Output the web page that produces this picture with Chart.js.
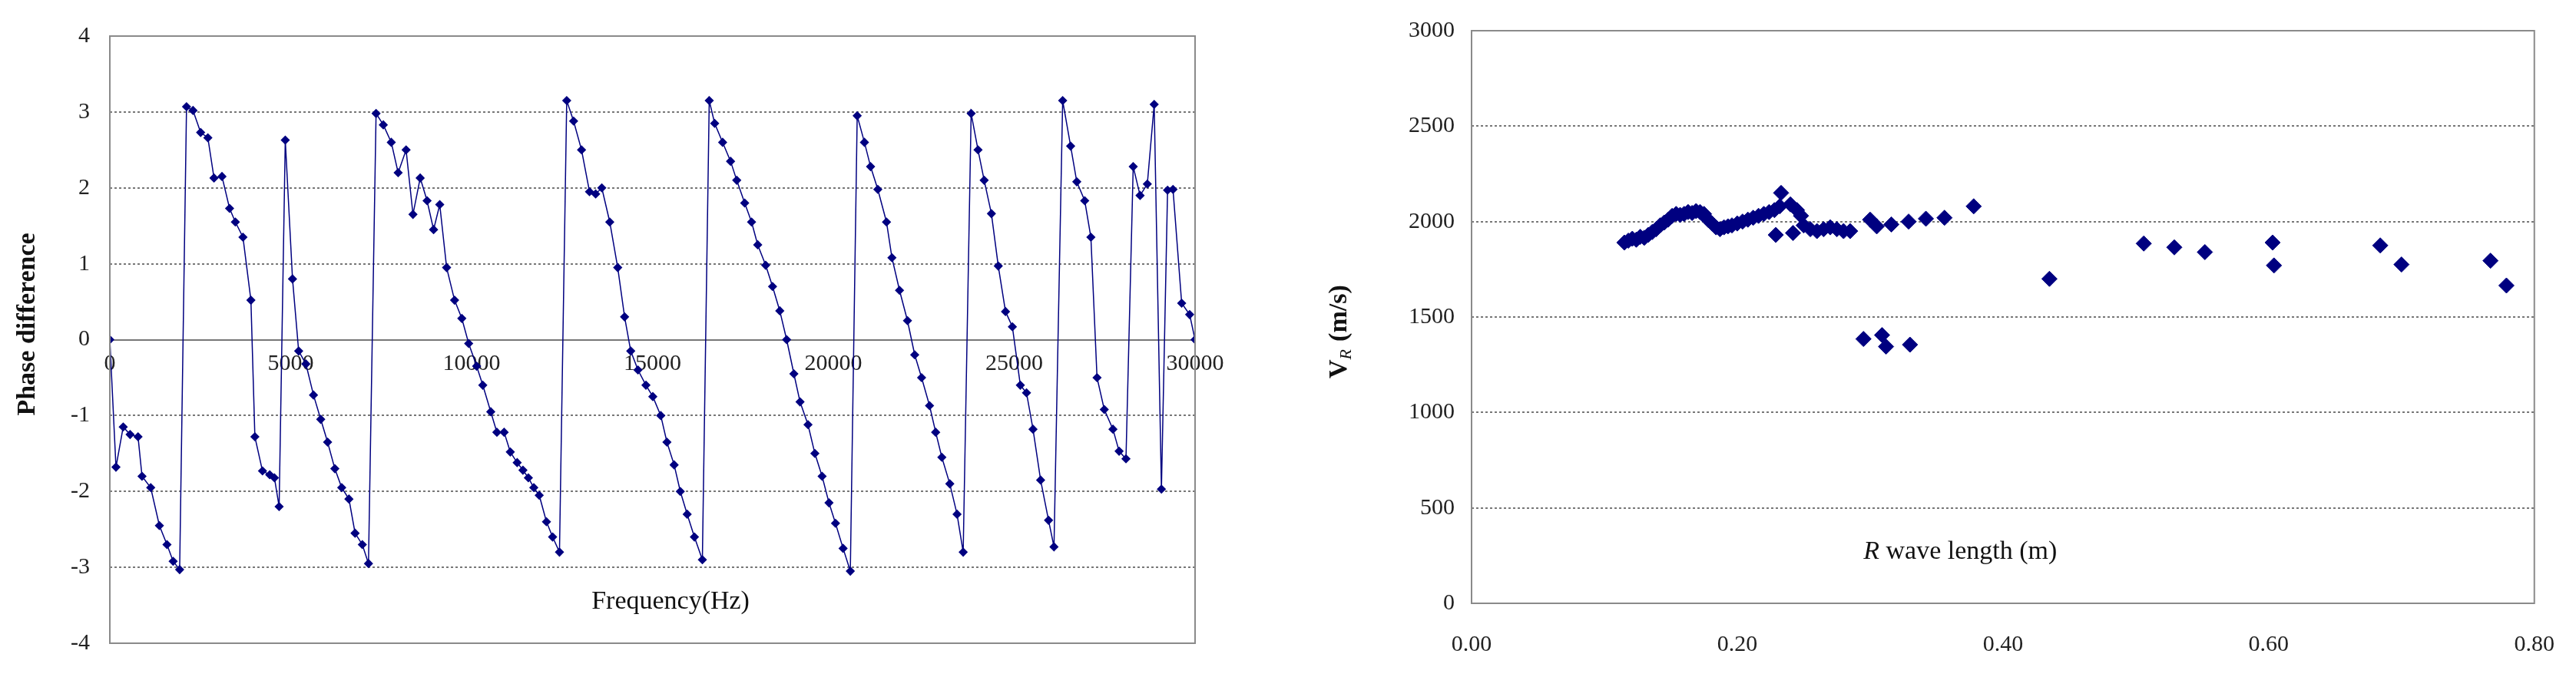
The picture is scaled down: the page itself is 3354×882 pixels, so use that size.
<!DOCTYPE html>
<html><head><meta charset="utf-8">
<script src="https://cdn.jsdelivr.net/npm/chart.js@4"></script>
<style>
body{margin:0;background:#fff;width:3354px;height:882px;overflow:hidden}
.box{position:absolute;top:0;height:882px}
</style></head><body>
<div class="box" style="left:0;width:1600px"><canvas id="phaseChart"></canvas></div>
<div class="box" style="left:1700px;width:1654px"><canvas id="velChart"></canvas></div>
<script>
var freqs = [0,170,370,560,780,890,1130,1370,1580,1750,1930,2120,2300,2510,2710,2880,3100,3310,3470,3680,3900,4010,4220,4420,4550,4680,4850,5050,5220,5420,5630,5830,6020,6220,6410,6610,6780,6980,7150,7360,7560,7780,7970,8190,8380,8580,8770,8950,9120,9310,9530,9730,9920,10140,10310,10530,10700,10900,11070,11260,11420,11570,11720,11870,12070,12240,12430,12630,12820,13040,13260,13430,13600,13820,14040,14230,14400,14600,14820,15010,15230,15400,15600,15770,15960,16160,16380,16570,16720,16940,17160,17330,17550,17740,17910,18130,18320,18520,18710,18910,19080,19300,19490,19690,19880,20060,20270,20470,20660,20860,21030,21230,21470,21620,21830,22050,22250,22440,22660,22830,23000,23220,23420,23590,23810,24000,24170,24370,24560,24760,24950,25170,25340,25520,25730,25950,26100,26340,26560,26730,26950,27120,27290,27490,27730,27900,28090,28290,28480,28680,28870,29070,29240,29390,29630,29850,30000];
var phase = [0,-1.68,-1.15,-1.25,-1.28,-1.8,-1.95,-2.45,-2.7,-2.92,-3.03,3.07,3.02,2.73,2.66,2.13,2.15,1.73,1.55,1.35,0.52,-1.28,-1.73,-1.78,-1.82,-2.2,2.63,0.8,-0.15,-0.32,-0.73,-1.05,-1.35,-1.7,-1.95,-2.1,-2.55,-2.7,-2.95,2.98,2.83,2.6,2.2,2.5,1.65,2.13,1.83,1.45,1.78,0.95,0.52,0.28,-0.05,-0.35,-0.6,-0.95,-1.22,-1.22,-1.48,-1.62,-1.72,-1.82,-1.95,-2.05,-2.4,-2.6,-2.8,3.15,2.88,2.5,1.95,1.92,2.0,1.55,0.95,0.3,-0.15,-0.4,-0.6,-0.75,-1.0,-1.35,-1.65,-2.0,-2.3,-2.6,-2.9,3.15,2.85,2.6,2.35,2.1,1.8,1.55,1.25,0.98,0.7,0.38,0.0,-0.45,-0.82,-1.12,-1.5,-1.8,-2.15,-2.42,-2.75,-3.05,2.95,2.6,2.28,1.98,1.55,1.08,0.65,0.25,-0.2,-0.5,-0.87,-1.22,-1.55,-1.9,-2.3,-2.8,2.98,2.5,2.1,1.66,0.97,0.37,0.17,-0.6,-0.7,-1.18,-1.85,-2.38,-2.73,3.15,2.55,2.08,1.83,1.35,-0.5,-0.92,-1.18,-1.47,-1.57,2.28,1.9,2.05,3.1,-1.97,1.97,1.98,0.48,0.33,0.0];

var waveLen = [0.115,0.118,0.121,0.124,0.127,0.130,0.133,0.136,0.139,0.142,0.145,0.148,0.151,0.154,0.157,0.160,0.163,0.166,0.169,0.172,0.175,0.178,0.181,0.184,0.187,0.190,0.193,0.196,0.200,0.204,0.208,0.212,0.216,0.220,0.224,0.228,0.232,0.233,0.229,0.240,0.245,0.248,0.242,0.250,0.255,0.260,0.265,0.270,0.275,0.280,0.285,0.300,0.305,0.316,0.329,0.342,0.356,0.378,0.435,0.506,0.529,0.552,0.603,0.604,0.684,0.700,0.767,0.779,0.295,0.309,0.312,0.330];
var velR = [1890,1900,1910,1905,1920,1915,1930,1945,1960,1980,1995,2010,2030,2040,2035,2040,2050,2045,2055,2050,2040,2010,1990,1970,1960,1970,1975,1980,1990,2000,2010,2020,2030,2040,2050,2060,2080,2150,1930,2090,2060,2030,1940,1980,1960,1950,1960,1970,1960,1950,1950,2010,1975,1985,2000,2015,2020,2080,1700,1885,1865,1840,1890,1770,1875,1775,1795,1665,1385,1405,1345,1355];

var NAVY = '#000080';
var FONT = 'Liberation Serif';

// box around plot area + free-placed axis titles
function framePlugin(titles) {
    return {
        id: 'frame',
        afterDraw: function (chart) {
            var c = chart.ctx, a = chart.chartArea;
            c.save();
            c.strokeStyle = '#8a8a8a';
            c.lineWidth = 2;
            c.strokeRect(a.left, a.top, a.right - a.left, a.bottom - a.top);
            c.fillStyle = '#111';
            titles(chart, c);
            c.restore();
        }
    };
}

var phasePoints = freqs.map(function (f, i) { return {x: f, y: phase[i]}; });
new Chart(document.getElementById('phaseChart'), {
    type: 'line',
    data: {datasets: [{
        data: phasePoints,
        borderColor: NAVY, backgroundColor: NAVY,
        borderWidth: 1.5, pointStyle: 'rectRot', pointRadius: 5,
        tension: 0
    }]},
    options: {
        responsive: true, maintainAspectRatio: false, animation: false,
        layout: {padding: {top: 47, right: 44, bottom: 39}},
        plugins: {legend: {display: false}, tooltip: {enabled: false}},
        scales: {
            x: {type: 'linear', min: 0, max: 30000, position: {y: 0},
                grid: {display: false},
                border: {color: '#777', width: 2},
                ticks: {stepSize: 5000, color: '#222', font: {family: FONT, size: 30}, padding: 6,
                        callback: function (v) { return String(v); }}},
            y: {min: -4, max: 4,
                afterFit: function (s) { s.width = 143; },
                grid: {color: function (ctx) { var v = ctx.tick.value; return (v === 0 || v === 4 || v === -4) ? 'rgba(0,0,0,0)' : '#777'; },
                       drawTicks: false, lineWidth: 2},
                border: {display: false, dash: [3, 3]},
                ticks: {stepSize: 1, color: '#222', font: {family: FONT, size: 30}, padding: 26}}
        }
    },
    plugins: [framePlugin(function (chart, c) {
            var x = chart.scales.x, y = chart.scales.y;
            c.font = '34px ' + FONT;
            c.textAlign = 'center';
            c.textBaseline = 'middle';
            c.fillText('Frequency(Hz)', x.getPixelForValue(15500), y.getPixelForValue(-3.45));
            c.translate(36, (chart.chartArea.top + chart.chartArea.bottom) / 2 - 20);
            c.rotate(-Math.PI / 2);
            c.font = 'bold 34px ' + FONT;
            c.fillText('Phase difference', 0, 0);
        })]
});

var velPoints = waveLen.map(function (w, i) { return {x: w, y: velR[i]}; });
new Chart(document.getElementById('velChart'), {
    type: 'scatter',
    data: {datasets: [{
        data: velPoints,
        borderColor: NAVY, backgroundColor: NAVY,
        pointStyle: 'rectRot', pointRadius: 10
    }]},
    options: {
        responsive: true, maintainAspectRatio: false, animation: false,
        layout: {padding: {top: 38, right: 45}},
        plugins: {legend: {display: false}, tooltip: {enabled: false}},
        scales: {
            x: {min: 0, max: 0.8,
                afterFit: function (s) { s.height = 96; },
                grid: {display: false, drawOnChartArea: false},
                border: {color: '#777', width: 2},
                ticks: {stepSize: 0.2, color: '#222', font: {family: FONT, size: 30}, padding: 28,
                        callback: function (v) { return v.toFixed(2); }}},
            y: {min: 0, max: 3000,
                afterFit: function (s) { s.width = 216; },
                grid: {color: function (ctx) { var v = ctx.tick.value; return (v === 0 || v === 3000) ? 'rgba(0,0,0,0)' : '#777'; },
                       drawTicks: false, lineWidth: 2},
                border: {display: false, dash: [3, 3]},
                ticks: {stepSize: 500, color: '#222', font: {family: FONT, size: 30}, padding: 22,
                        callback: function (v) { return String(v); }}}
        }
    },
    plugins: [framePlugin(function (chart, c) {
            var x = chart.scales.x, y = chart.scales.y;
            c.textBaseline = 'middle';
            c.textAlign = 'left';
            var tx = x.getPixelForValue(0.295), ty = y.getPixelForValue(270);
            c.font = 'italic 34px ' + FONT;
            c.fillText('R', tx, ty);
            var w = c.measureText('R ').width;
            c.font = '34px ' + FONT;
            c.fillText('wave length (m)', tx + w, ty);
            c.translate(44, (chart.chartArea.top + chart.chartArea.bottom) / 2 + 80);
            c.rotate(-Math.PI / 2);
            c.font = 'bold 34px ' + FONT;
            c.fillText('V', 0, 0);
            var vw = c.measureText('V').width;
            c.font = 'italic 22px ' + FONT;
            c.fillText('R', vw, 9);
            c.font = 'bold 34px ' + FONT;
            c.fillText(' (m/s)', vw + 15, 0);
        })]
});
</script></body></html>
